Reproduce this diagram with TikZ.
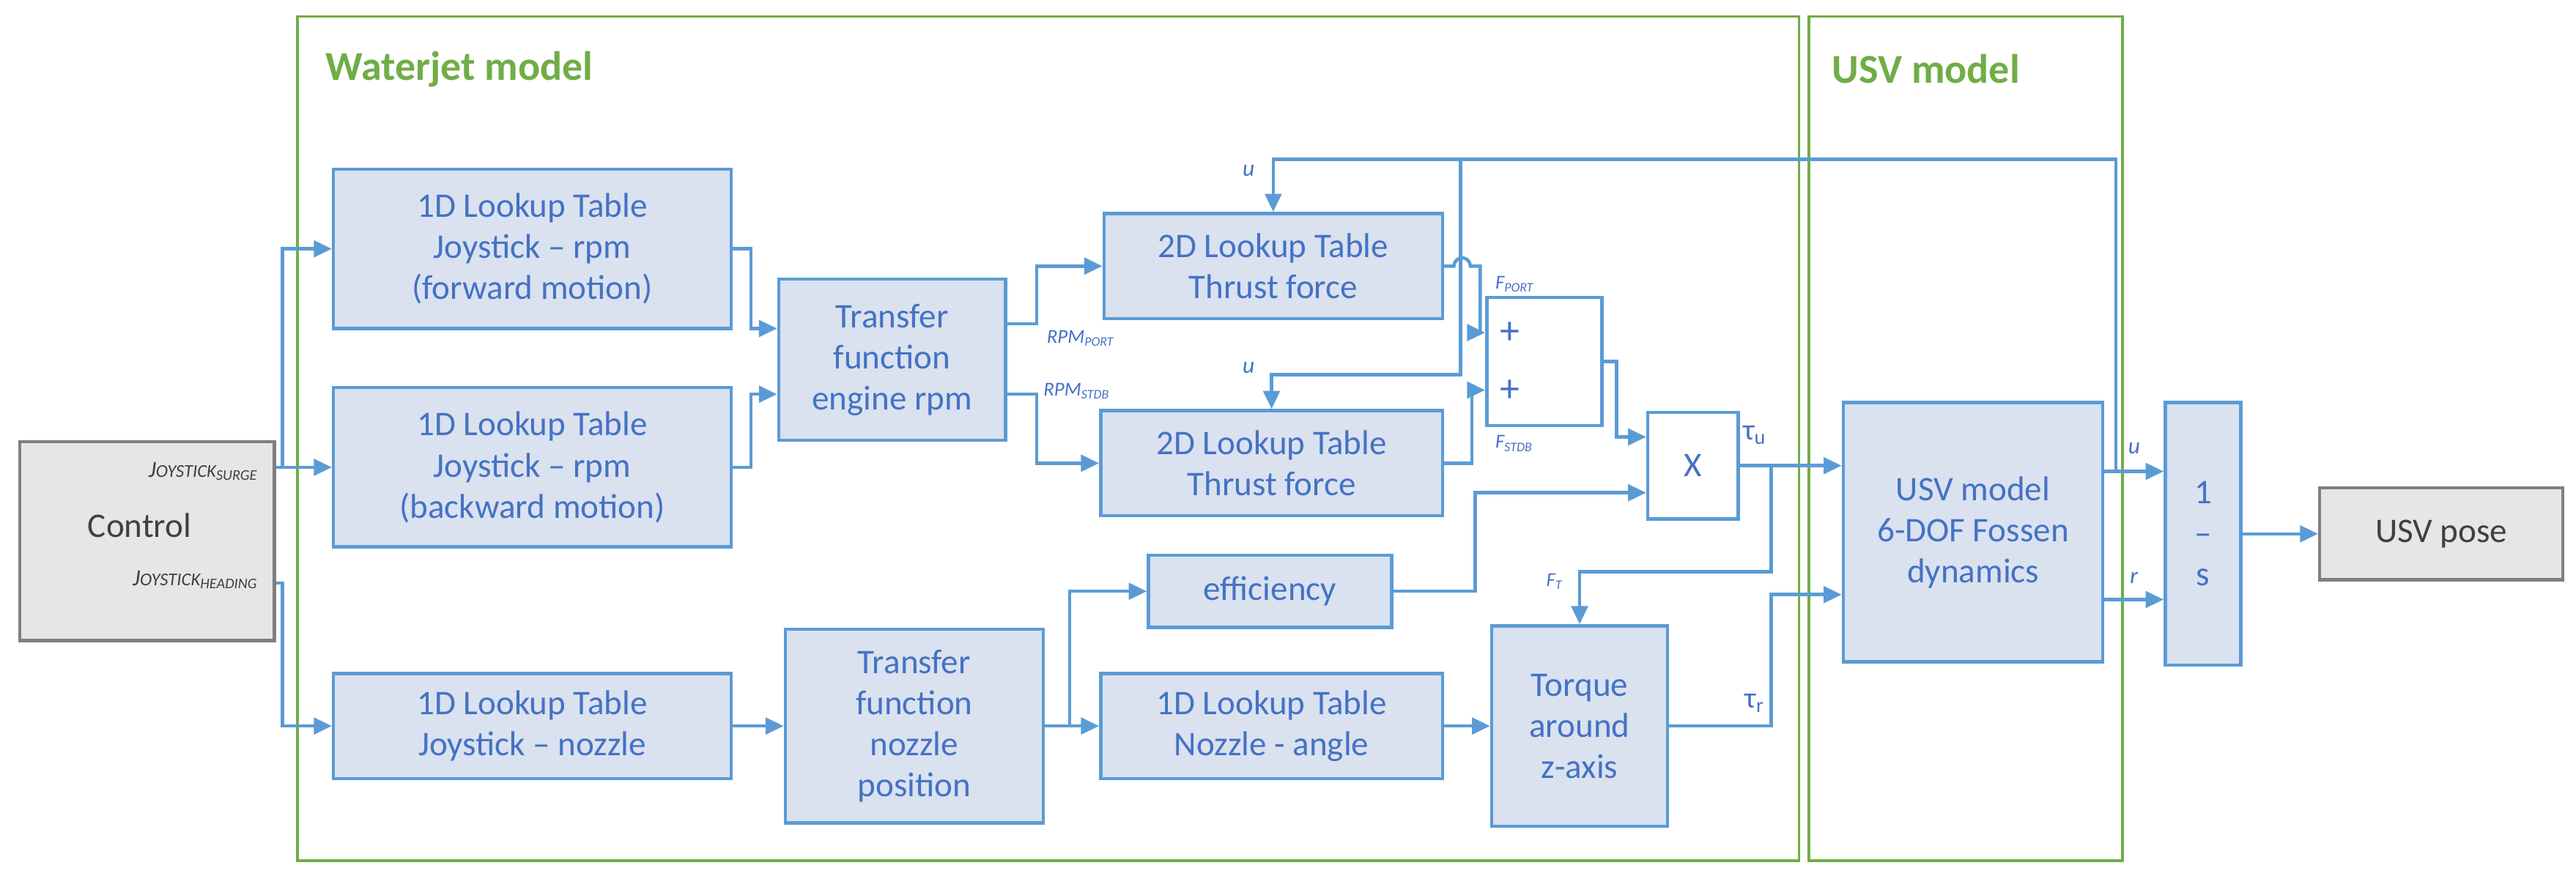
\documentclass[tikz,border=0pt]{standalone}
\usepackage{fontspec}
\setmainfont{Carlito}
\usetikzlibrary{arrows.meta}
\definecolor{lb}{HTML}{5B9BD5}
\definecolor{fb}{HTML}{DAE1EF}
\definecolor{tb}{HTML}{4472C4}
\definecolor{gr}{HTML}{70AD47}
\definecolor{gf}{HTML}{E7E6E6}
\definecolor{gb}{HTML}{7F7F7F}
\definecolor{gt}{HTML}{404040}
\begin{document}
\begin{tikzpicture}[x=1pt,y=1pt,
 blk/.style={draw=lb,line width=2pt,fill=fb,text=tb,align=center,inner sep=0pt,font=\fontsize{21}{25}\selectfont},
 wblk/.style={blk,fill=white},
 gblk/.style={draw=gb,line width=2pt,fill=gf,text=gt,align=center,inner sep=0pt,font=\fontsize{21}{25}\selectfont},
 conn/.style={draw=lb,line width=2pt,-{Triangle[length=11pt,width=10pt]}},
 ln/.style={draw=lb,line width=2pt},
 lab/.style={text=tb,font=\fontsize{14}{14}\selectfont\itshape,inner sep=0pt},
 frame/.style={draw=gr,line width=1.5pt},
 ttl/.style={text=gr,font=\fontsize{25}{25}\selectfont\bfseries,anchor=west,inner sep=0pt}]
\useasboundingbox (0,0) rectangle (1568,-535);
\draw[frame] (181,-10) rectangle (1095,-524);
\draw[frame] (1101,-10) rectangle (1292,-524);
\node[ttl] (t1) at (198,-42) {Waterjet model};
\node[ttl] (t2) at (1115,-42) {USV model};

\node[gblk,minimum width=155pt,minimum height=121pt] (ctrl) at (89.5,-329.5) {};
\node[text=gt,font=\fontsize{21}{25}\selectfont] (ctl) at (85,-320) {Control};
\node[text=gt,font=\fontsize{14}{14}\selectfont\itshape,anchor=east,inner sep=0pt] (js) at (157,-287) {J{\fontsize{11}{11}\selectfont OYSTICK}\textsubscript{\fontsize{9}{9}\selectfont SURGE}};
\node[text=gt,font=\fontsize{14}{14}\selectfont\itshape,anchor=east,inner sep=0pt] (jh) at (157,-353) {J{\fontsize{11}{11}\selectfont OYSTICK}\textsubscript{\fontsize{9}{9}\selectfont HEADING}};

\node[blk,minimum width=242pt,minimum height=97pt] (fwd) at (324,-151.5) {1D Lookup Table\\Joystick – rpm\\(forward motion)};
\node[blk,minimum width=242pt,minimum height=97pt] (back) at (324,-284.5) {1D Lookup Table\\Joystick – rpm\\(backward motion)};
\node[blk,minimum width=242pt,minimum height=64pt] (noz) at (324,-442) {1D Lookup Table\\Joystick – nozzle};
\node[blk,minimum width=138pt,minimum height=98pt] (tfe) at (543,-219) {Transfer\\function\\engine rpm};
\node[blk,minimum width=206pt,minimum height=64pt] (lut2a) at (775,-162) {2D Lookup Table\\Thrust force};
\node[blk,minimum width=208pt,minimum height=64pt] (lut2b) at (774,-282) {2D Lookup Table\\Thrust force};
\node[wblk,minimum width=70pt,minimum height=78pt] (sum) at (940,-220) {};
\node[text=tb,font=\fontsize{24}{24}\selectfont] (p1) at (919,-203) {+};
\node[text=tb,font=\fontsize{24}{24}\selectfont] (p2) at (919,-238) {+};
\node[wblk,minimum width=55pt,minimum height=65pt] (mul) at (1030.5,-283.5) {X};
\node[blk,minimum width=148pt,minimum height=44pt] (eff) at (773,-360) {efficiency};
\node[blk,minimum width=157pt,minimum height=118pt] (tfn) at (556.5,-442) {Transfer\\function\\nozzle\\position};
\node[blk,minimum width=208pt,minimum height=64pt] (ang) at (774,-442) {1D Lookup Table\\Nozzle - angle};
\node[blk,minimum width=107pt,minimum height=122pt] (torq) at (961.5,-442) {Torque\\around\\z-axis};
\node[blk,minimum width=158pt,minimum height=158pt] (usv) at (1201,-324) {USV model\\6-DOF Fossen\\dynamics};
\node[blk,minimum width=46pt,minimum height=160pt] (integ) at (1341,-325) {1\\–\\s};
\node[gblk,minimum width=148pt,minimum height=56pt] (pose) at (1486,-325) {USV pose};

% control outputs
\coordinate (js1) at (172,-284.5);
\draw[conn] (ctrl.east|-js1) -- (back.west);
\draw[conn] (js1) |- (fwd.west);
\coordinate (jh1) at (172,-355);
\draw[conn] (ctrl.east|-jh1) -- (jh1) |- (noz.west);
% to engine transfer
\draw[conn] (fwd.east) -- ++(11,0) |- ([yshift=19pt]tfe.west);
\draw[conn] (back.east) -- ++(11,0) |- ([yshift=-21pt]tfe.west);
\draw[conn] ([yshift=22pt]tfe.east) -- ++(18,0) |- (lut2a.west);
\draw[conn] ([yshift=-21pt]tfe.east) -- ++(18,0) |- (lut2b.west);
% to sum
\draw[conn] (lut2a.east) -- ++(6,0) arc (180:0:5) -- ++(6,0) |- ([yshift=17.5pt]sum.west);
\draw[conn] (lut2b.east) -- ++(17,0) |- ([yshift=-17.5pt]sum.west);
\draw[conn] (sum.east) -- ++(8,0) |- ([yshift=17.5pt]mul.west);
\draw[conn] (eff.east) -- ++(50,0) |- ([yshift=-16.5pt]mul.west);
% tau u
\coordinate (tu) at (1078,-283.5);
\draw[conn] (mul.east) -- (mul.east-|usv.west);
\draw[conn] (tu) -- (1078,-348) -| (torq.north);
\draw[conn] (torq.east) -- (1078,-442) |- ([yshift=-38pt]usv.west);
% usv outputs
\coordinate (uo) at (1288,-287);
\draw[conn] (usv.east|-uo) -- (integ.west|-uo);
\coordinate (ro) at (1280,-365);
\draw[conn] (ro) -- (integ.west|-ro);
\draw[conn] (uo) -- (1288,-97) -| (lut2a.north);
\draw[conn] (889,-97) -- (889,-228) -| (lut2b.north);
\draw[conn] (integ.east) -- (pose.west);
% nozzle chain
\draw[conn] (noz.east) -- (tfn.west);
\coordinate (nb) at (651,-442);
\draw[conn] (tfn.east) -- (ang.west);
\draw[conn] (nb) |- (eff.west);
\draw[conn] (ang.east) -- (torq.west);
% labels
\node[lab] (l1) at (760,-104) {u};
\node[lab] (l2) at (760,-224) {u};
\node[lab] (l3) at (1299,-273) {u};
\node[lab] (l4) at (1299,-352) {r};
\node[lab,anchor=west,font=\fontsize{12}{12}\selectfont\itshape] (l5) at (637,-206) {RPM\textsubscript{PORT}};
\node[lab,anchor=west,font=\fontsize{12}{12}\selectfont\itshape] (l6) at (635,-238) {RPM\textsubscript{STDB}};
\node[lab,anchor=west,font=\fontsize{12}{12}\selectfont\itshape] (l7) at (910,-173) {F\textsubscript{PORT}};
\node[lab,anchor=west,font=\fontsize{12}{12}\selectfont\itshape] (l8) at (910,-270) {F\textsubscript{STDB}};
\node[lab,anchor=west,font=\fontsize{12}{12}\selectfont\itshape] (l9) at (941,-354) {F\textsubscript{T}};
\node[lab,font=\fontsize{18}{18}\selectfont] (l10) at (1068,-265) {τ\textsubscript{u}};
\node[lab,font=\fontsize{18}{18}\selectfont] (l11) at (1068,-428) {τ\textsubscript{r}};
\end{tikzpicture}
\end{document}
